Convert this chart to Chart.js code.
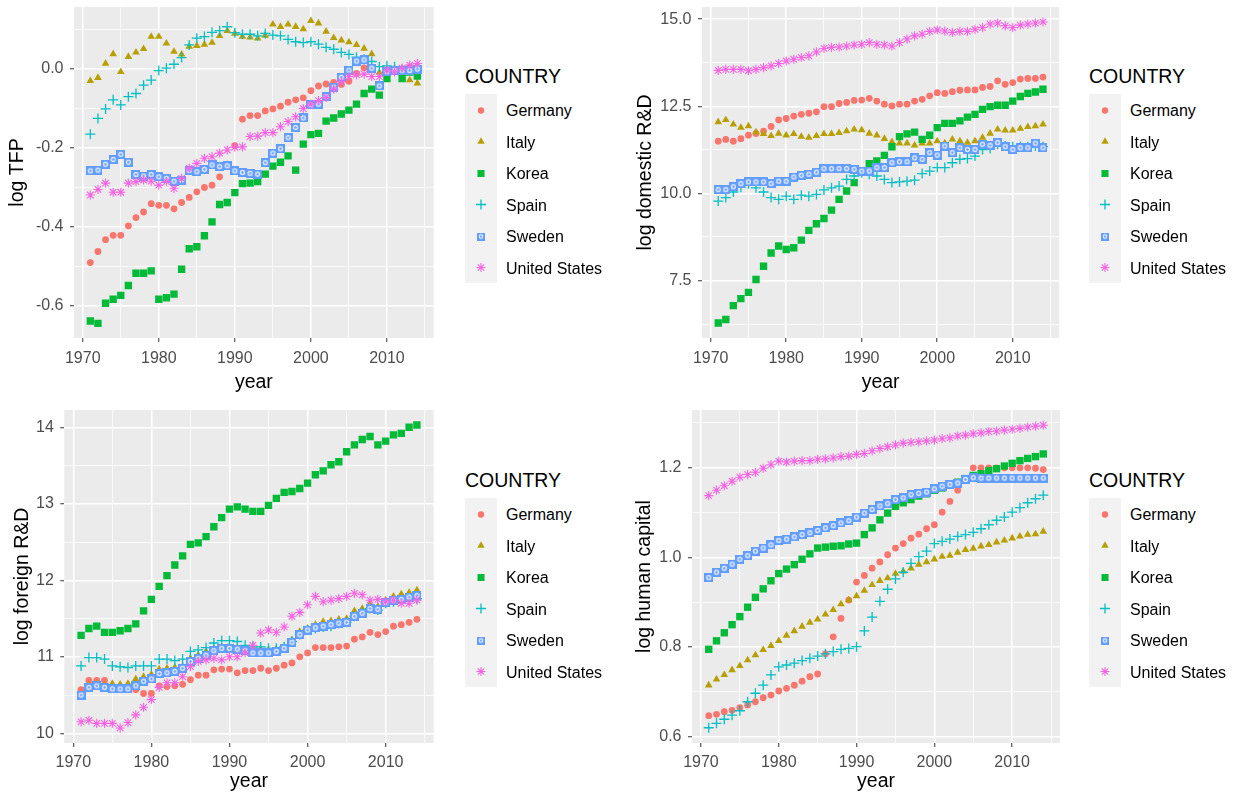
<!DOCTYPE html>
<html>
<head>
<meta charset="utf-8">
<script src="https://cdn.jsdelivr.net/npm/chart.js@4/dist/chart.umd.min.js"></script>
<style>
  body { margin: 0; background: #fff; font-family: "Liberation Sans", Arial, sans-serif; }
  #page { position: relative; width: 1242px; height: 799px; overflow: hidden; }
  .panel { position: absolute; }
  .legend-title { position: absolute; font-size: 19.5px; line-height: 22px; color: #000; white-space: nowrap; }
  .key { position: absolute; background: #F2F2F2; }
  .label { position: absolute; font-size: 16px; line-height: 20px; color: #000; white-space: nowrap; }
</style>
</head>
<body>
<div id="page"></div>
<script>
const PANEL_BG = '#EBEBEB';
const GRID_COLOR = '#FFFFFF';
const TICK_TEXT = '#4D4D4D';
const TICK_MARK = '#333333';
const FONT = '"Liberation Sans", Arial, sans-serif';

const years = [1971, 1972, 1973, 1974, 1975, 1976, 1977, 1978, 1979, 1980,
  1981, 1982, 1983, 1984, 1985, 1986, 1987, 1988, 1989, 1990,
  1991, 1992, 1993, 1994, 1995, 1996, 1997, 1998, 1999, 2000,
  2001, 2002, 2003, 2004, 2005, 2006, 2007, 2008, 2009, 2010,
  2011, 2012, 2013, 2014];
const countries = ['Germany', 'Italy', 'Korea', 'Spain', 'Sweden', 'United States'];
const colors = ['#F8766D', '#B79F00', '#00BA38', '#00BFC4', '#619CFF', '#F564E3'];

// log TFP
const tfpGermany = [-0.490, -0.462, -0.432, -0.421, -0.421, -0.397, -0.376, -0.362, -0.341, -0.345,
  -0.345, -0.354, -0.338, -0.325, -0.311, -0.300, -0.294, -0.273, -0.241, -0.194,
  -0.127, -0.118, -0.118, -0.106, -0.101, -0.094, -0.084, -0.078, -0.073, -0.055,
  -0.043, -0.038, -0.034, -0.039, -0.031, -0.011, 0.003, 0.003, -0.045, -0.005,
  0.000, 0.000, 0.005, 0.005];
const tfpItaly = [-0.030, -0.022, 0.014, 0.038, -0.007, 0.031, 0.042, 0.051, 0.082, 0.082,
  0.065, 0.044, 0.037, 0.057, 0.059, 0.062, 0.067, 0.084, 0.097, 0.090,
  0.082, 0.080, 0.078, 0.085, 0.113, 0.107, 0.113, 0.107, 0.101, 0.122,
  0.116, 0.095, 0.079, 0.073, 0.068, 0.061, 0.052, 0.038, -0.009, -0.003,
  -0.001, -0.007, -0.028, -0.036];
const tfpKorea = [-0.638, -0.644, -0.593, -0.583, -0.573, -0.548, -0.517, -0.517, -0.511, -0.583,
  -0.579, -0.570, -0.507, -0.455, -0.450, -0.422, -0.387, -0.343, -0.338, -0.313,
  -0.290, -0.289, -0.285, -0.266, -0.246, -0.236, -0.220, -0.256, -0.190, -0.166,
  -0.163, -0.132, -0.124, -0.114, -0.104, -0.089, -0.062, -0.051, -0.066, -0.024,
  -0.003, -0.024, -0.008, -0.018];
const tfpSpain = [-0.165, -0.125, -0.101, -0.078, -0.091, -0.070, -0.062, -0.041, -0.028, -0.004,
  0.002, 0.012, 0.029, 0.061, 0.078, 0.082, 0.093, 0.097, 0.107, 0.092,
  0.088, 0.088, 0.084, 0.090, 0.086, 0.084, 0.075, 0.069, 0.067, 0.069,
  0.063, 0.055, 0.050, 0.042, 0.037, 0.030, 0.025, 0.019, 0.006, 0.008,
  0.006, -0.001, -0.003, -0.001];
const tfpSweden = [-0.258, -0.256, -0.241, -0.229, -0.216, -0.236, -0.267, -0.271, -0.267, -0.273,
  -0.277, -0.284, -0.281, -0.257, -0.260, -0.254, -0.243, -0.247, -0.245, -0.258,
  -0.262, -0.264, -0.266, -0.237, -0.213, -0.202, -0.174, -0.148, -0.124, -0.091,
  -0.089, -0.070, -0.046, -0.021, -0.003, 0.020, 0.023, 0.002, -0.043, -0.007,
  -0.004, -0.004, -0.004, 0.000];
const tfpUS = [-0.319, -0.305, -0.289, -0.312, -0.312, -0.289, -0.285, -0.281, -0.284, -0.294,
  -0.285, -0.302, -0.277, -0.251, -0.239, -0.226, -0.222, -0.213, -0.205, -0.198,
  -0.197, -0.171, -0.170, -0.161, -0.161, -0.146, -0.133, -0.121, -0.100, -0.089,
  -0.080, -0.072, -0.051, -0.032, -0.019, -0.015, -0.013, -0.019, -0.019, -0.003,
  -0.007, 0.002, 0.010, 0.014];

// log domestic R&D
const domGermany = [11.50, 11.55, 11.50, 11.57, 11.67, 11.72, 11.79, 11.92, 12.11, 12.15,
  12.22, 12.27, 12.30, 12.34, 12.49, 12.49, 12.58, 12.61, 12.67, 12.68,
  12.73, 12.65, 12.56, 12.51, 12.56, 12.56, 12.65, 12.70, 12.80, 12.89,
  12.87, 12.92, 12.96, 12.97, 12.97, 13.04, 13.07, 13.23, 13.13, 13.18,
  13.28, 13.30, 13.30, 13.34];
const domItaly = [12.05, 12.11, 11.98, 11.89, 11.93, 11.76, 11.71, 11.65, 11.72, 11.67,
  11.71, 11.63, 11.60, 11.65, 11.71, 11.71, 11.74, 11.79, 11.84, 11.82,
  11.72, 11.67, 11.57, 11.48, 11.44, 11.44, 11.38, 11.44, 11.44, 11.50,
  11.44, 11.55, 11.50, 11.46, 11.50, 11.60, 11.72, 11.84, 11.81, 11.81,
  11.86, 11.91, 11.93, 11.98];
const domKorea = [6.28, 6.38, 6.78, 6.98, 7.16, 7.53, 7.91, 8.29, 8.49, 8.39,
  8.44, 8.66, 8.94, 9.13, 9.28, 9.52, 9.83, 10.07, 10.31, 10.62,
  10.85, 10.93, 11.09, 11.34, 11.63, 11.71, 11.76, 11.55, 11.67, 11.89,
  12.01, 12.01, 12.08, 12.19, 12.27, 12.41, 12.49, 12.53, 12.53, 12.65,
  12.78, 12.87, 12.91, 12.99];
const domSpain = [9.78, 9.88, 10.04, 10.18, 10.28, 10.16, 10.04, 9.88, 9.83, 9.92,
  9.83, 9.95, 9.92, 9.97, 10.10, 10.16, 10.21, 10.40, 10.50, 10.59,
  10.55, 10.50, 10.40, 10.31, 10.33, 10.35, 10.38, 10.57, 10.64, 10.74,
  10.74, 10.88, 10.98, 11.00, 11.07, 11.26, 11.29, 11.41, 11.36, 11.34,
  11.34, 11.34, 11.36, 11.34];
const domSweden = [10.11, 10.11, 10.19, 10.28, 10.33, 10.33, 10.33, 10.28, 10.35, 10.35,
  10.47, 10.52, 10.55, 10.61, 10.71, 10.71, 10.71, 10.71, 10.69, 10.64,
  10.64, 10.74, 10.74, 10.88, 10.91, 10.91, 11.02, 10.98, 11.17, 11.10,
  11.36, 11.17, 11.31, 11.26, 11.26, 11.41, 11.38, 11.46, 11.34, 11.26,
  11.31, 11.31, 11.44, 11.31];
const domUS = [13.53, 13.56, 13.56, 13.56, 13.52, 13.56, 13.61, 13.66, 13.73, 13.80,
  13.85, 13.90, 13.95, 14.06, 14.16, 14.19, 14.20, 14.23, 14.26, 14.28,
  14.33, 14.28, 14.26, 14.23, 14.33, 14.43, 14.52, 14.57, 14.65, 14.69,
  14.66, 14.62, 14.65, 14.65, 14.71, 14.76, 14.86, 14.89, 14.81, 14.76,
  14.83, 14.86, 14.89, 14.92];

// log foreign R&D
const forGermany = [10.57, 10.69, 10.69, 10.69, 10.58, 10.58, 10.57, 10.57, 10.52, 10.52,
  10.62, 10.61, 10.62, 10.64, 10.70, 10.76, 10.76, 10.83, 10.84, 10.84,
  10.79, 10.82, 10.82, 10.85, 10.82, 10.85, 10.89, 10.92, 11.00, 11.05,
  11.12, 11.12, 11.12, 11.13, 11.14, 11.23, 11.26, 11.32, 11.29, 11.33,
  11.40, 11.42, 11.45, 11.49];
const forItaly = [10.50, 10.63, 10.65, 10.63, 10.65, 10.64, 10.65, 10.71, 10.74, 10.77,
  10.84, 10.85, 10.86, 10.87, 10.98, 11.02, 11.07, 11.11, 11.13, 11.13,
  11.12, 11.10, 11.10, 11.10, 11.09, 11.10, 11.12, 11.22, 11.33, 11.37,
  11.42, 11.46, 11.47, 11.49, 11.50, 11.60, 11.63, 11.69, 11.66, 11.74,
  11.79, 11.82, 11.84, 11.87];
const forKorea = [11.28, 11.37, 11.40, 11.32, 11.32, 11.34, 11.37, 11.43, 11.60, 11.75,
  11.92, 12.06, 12.20, 12.32, 12.47, 12.49, 12.57, 12.70, 12.82, 12.93,
  12.96, 12.93, 12.90, 12.90, 12.98, 13.07, 13.15, 13.16, 13.20, 13.27,
  13.38, 13.43, 13.51, 13.55, 13.68, 13.77, 13.84, 13.88, 13.77, 13.82,
  13.90, 13.92, 14.00, 14.03];
const forSpain = [10.88, 10.99, 10.99, 10.97, 10.88, 10.87, 10.86, 10.88, 10.88, 10.88,
  10.97, 10.97, 10.95, 10.97, 11.07, 11.09, 11.12, 11.18, 11.21, 11.21,
  11.20, 11.15, 11.13, 11.13, 11.11, 11.11, 11.13, 11.20, 11.29, 11.35,
  11.37, 11.39, 11.40, 11.44, 11.45, 11.53, 11.58, 11.63, 11.61, 11.70,
  11.72, 11.74, 11.74, 11.76];
const forSweden = [10.50, 10.60, 10.62, 10.60, 10.58, 10.58, 10.58, 10.62, 10.68, 10.71,
  10.78, 10.79, 10.81, 10.85, 10.94, 10.98, 11.02, 11.08, 11.11, 11.11,
  11.10, 11.08, 11.05, 11.05, 11.05, 11.07, 11.11, 11.19, 11.29, 11.35,
  11.38, 11.40, 11.42, 11.44, 11.45, 11.53, 11.57, 11.63, 11.62, 11.71,
  11.74, 11.75, 11.78, 11.80];
const forUS = [10.15, 10.17, 10.13, 10.13, 10.13, 10.07, 10.14, 10.24, 10.34, 10.44,
  10.60, 10.66, 10.66, 10.74, 10.87, 10.94, 10.96, 10.98, 10.96, 11.00,
  11.00, 11.05, 11.15, 11.31, 11.35, 11.32, 11.39, 11.53, 11.58, 11.68,
  11.79, 11.72, 11.74, 11.76, 11.79, 11.83, 11.81, 11.74, 11.75, 11.72,
  11.74, 11.70, 11.70, 11.74];

// log human capital
const hcGermany = [0.647, 0.650, 0.656, 0.659, 0.665, 0.671, 0.678, 0.687, 0.693, 0.702,
  0.708, 0.715, 0.724, 0.734, 0.740, 0.785, 0.823, 0.864, 0.905, 0.945,
  0.960, 0.976, 0.990, 1.006, 1.021, 1.031, 1.043, 1.052, 1.064, 1.073,
  1.101, 1.125, 1.150, 1.175, 1.200, 1.200, 1.200, 1.200, 1.200, 1.200,
  1.200, 1.200, 1.199, 1.196];
const hcItaly = [0.715, 0.728, 0.738, 0.749, 0.758, 0.771, 0.782, 0.794, 0.803, 0.814,
  0.826, 0.836, 0.846, 0.855, 0.862, 0.873, 0.883, 0.896, 0.905, 0.914,
  0.926, 0.939, 0.948, 0.954, 0.964, 0.969, 0.976, 0.984, 0.990, 0.996,
  1.002, 1.004, 1.011, 1.017, 1.020, 1.025, 1.028, 1.034, 1.038, 1.043,
  1.047, 1.051, 1.052, 1.058];
const hcKorea = [0.795, 0.814, 0.832, 0.850, 0.868, 0.889, 0.911, 0.930, 0.948, 0.964,
  0.974, 0.984, 0.996, 1.008, 1.021, 1.023, 1.025, 1.026, 1.030, 1.032,
  1.051, 1.066, 1.084, 1.099, 1.114, 1.122, 1.129, 1.137, 1.142, 1.150,
  1.155, 1.163, 1.168, 1.176, 1.183, 1.187, 1.194, 1.198, 1.204, 1.210,
  1.216, 1.221, 1.225, 1.231];
const hcSpain = [0.620, 0.630, 0.639, 0.648, 0.658, 0.678, 0.697, 0.715, 0.738, 0.756,
  0.760, 0.764, 0.770, 0.775, 0.780, 0.785, 0.790, 0.795, 0.797, 0.801,
  0.836, 0.867, 0.902, 0.929, 0.952, 0.967, 0.987, 1.002, 1.014, 1.031,
  1.036, 1.041, 1.047, 1.051, 1.056, 1.064, 1.073, 1.083, 1.090, 1.101,
  1.111, 1.122, 1.131, 1.139];
const hcSweden = [0.955, 0.967, 0.976, 0.985, 0.996, 1.004, 1.014, 1.021, 1.028, 1.038,
  1.041, 1.046, 1.051, 1.055, 1.060, 1.066, 1.071, 1.077, 1.082, 1.090,
  1.099, 1.107, 1.115, 1.120, 1.129, 1.133, 1.140, 1.143, 1.146, 1.153,
  1.159, 1.163, 1.166, 1.174, 1.178, 1.177, 1.177, 1.177, 1.177, 1.177,
  1.177, 1.177, 1.177, 1.177];
const hcUS = [1.138, 1.150, 1.160, 1.170, 1.179, 1.185, 1.190, 1.199, 1.207, 1.215,
  1.213, 1.215, 1.216, 1.216, 1.219, 1.220, 1.222, 1.225, 1.226, 1.230,
  1.232, 1.238, 1.243, 1.247, 1.251, 1.255, 1.257, 1.258, 1.260, 1.262,
  1.265, 1.267, 1.271, 1.273, 1.276, 1.278, 1.281, 1.282, 1.284, 1.286,
  1.288, 1.291, 1.293, 1.295];

// tick labels
const xMajor = [1970, 1980, 1990, 2000, 2010];
const xMinor = [1975, 1985, 1995, 2005, 2015];
const tfpMajor = [-0.6, -0.4, -0.2, 0.0];
const tfpTickLabels = ['-0.6', '-0.4', '-0.2', '0.0'];
const tfpMinor = [-0.5, -0.3, -0.1, 0.1];
const domMajor = [7.5, 10, 12.5, 15];
const domTickLabels = ['7.5', '10.0', '12.5', '15.0'];
const domMinor = [6.25, 8.75, 11.25, 13.75];
const forMajor = [10, 11, 12, 13, 14];
const forTickLabels = ['10', '11', '12', '13', '14'];
const forMinor = [10.5, 11.5, 12.5, 13.5];
const hcMajor = [0.6, 0.8, 1.0, 1.2];
const hcTickLabels = ['0.6', '0.8', '1.0', '1.2'];
const hcMinor = [0.7, 0.9, 1.1, 1.3];

Chart.defaults.font.family = FONT;

// Sweden uses a square with a ring in it, ggplot style
function swedenIcon(size) {
  const c = document.createElement('canvas');
  c.width = size;
  c.height = size;
  const g = c.getContext('2d');
  g.fillStyle = colors[4];
  g.fillRect(0, 0, size, size);
  g.fillStyle = '#DCE7FF';
  g.beginPath();
  g.arc(size / 2, size / 2, size * 0.3, 0, Math.PI * 2);
  g.fill();
  g.fillStyle = colors[4];
  g.beginPath();
  g.arc(size / 2, size / 2, size * 0.13, 0, Math.PI * 2);
  g.fill();
  return c;
}

const markers = [
  {style: 'circle', radius: 3.4, border: 0},
  {style: 'triangle', radius: 4.4, border: 0},
  {style: 'rect', radius: 5.2, border: 0},
  {style: 'cross', radius: 5, border: 1.3},
  {style: swedenIcon(9), radius: 4.5, border: 0},
  {style: 'star', radius: 4.6, border: 1.1}
];

const panelBackground = {
  id: 'panelBackground',
  beforeDraw(chart) {
    const a = chart.chartArea;
    chart.ctx.save();
    chart.ctx.fillStyle = PANEL_BG;
    chart.ctx.fillRect(a.left, a.top, a.right - a.left, a.bottom - a.top);
    chart.ctx.restore();
  }
};

const page = document.getElementById('page');

function axisOptions(major, minor, labels, min, max, title, fit, titlePad, tickPad) {
  const all = major.concat(minor).filter(v => v >= min && v <= max).sort((a, b) => a - b);
  return {
    type: 'linear',
    min: min,
    max: max,
    afterBuildTicks: s => { s.ticks = all.map(v => ({value: v})); },
    afterFit: s => {
      fit(s);
      // no extra room for half labels, panel edges are fixed
      s.paddingTop = 0;
      s.paddingBottom = 0;
      s.paddingLeft = 0;
      s.paddingRight = 0;
    },
    ticks: {
      autoSkip: false,
      maxRotation: 0,
      padding: tickPad,
      color: TICK_TEXT,
      font: {size: 16},
      callback: v => major.includes(v) ? labels[major.indexOf(v)] : ''
    },
    grid: {
      color: GRID_COLOR,
      lineWidth: ctx => major.includes(ctx.tick.value) ? 1.5 : 0.75,
      tickLength: 4,
      tickWidth: 1,
      tickColor: ctx => major.includes(ctx.tick.value) ? TICK_MARK : 'rgba(0,0,0,0)'
    },
    border: {display: false},
    title: {display: true, text: title, color: '#000', font: {size: 19.5}, padding: titlePad}
  };
}

function makePanel(p) {
  const holder = document.createElement('div');
  holder.className = 'panel';
  holder.style.left = p.left + 'px';
  holder.style.top = p.top + 'px';
  const canvas = document.createElement('canvas');
  canvas.width = p.width;
  canvas.height = p.height;
  holder.appendChild(canvas);
  page.appendChild(holder);

  const datasets = countries.map((name, i) => ({
    label: name,
    data: years.map((yr, j) => ({x: yr, y: p.series[i][j]})),
    pointStyle: markers[i].style,
    pointRadius: markers[i].radius,
    pointBackgroundColor: colors[i],
    pointBorderColor: colors[i],
    pointBorderWidth: markers[i].border,
    showLine: false,
    order: countries.length - i // later countries on top
  }));

  new Chart(canvas, {
    type: 'scatter',
    data: {datasets: datasets},
    options: {
      responsive: false,
      animation: false,
      events: [],
      layout: {padding: {left: 0, top: p.padTop, right: p.padRight, bottom: 0}},
      plugins: {legend: {display: false}, tooltip: {enabled: false}},
      scales: {
        x: axisOptions(xMajor, xMinor, xMajor.map(String), 1968.85, 2016.15, 'year',
          s => { s.height = p.xHeight; }, {top: 0, bottom: 6}, p.xTickPad),
        y: axisOptions(p.yMajor, p.yMinor, p.yLabels, p.yMin, p.yMax, p.yTitle,
          s => { s.width = p.yWidth; }, {top: p.yTitlePad, bottom: 0}, 6.5)
      }
    },
    plugins: [panelBackground]
  });

  makeLegend(p.legendLeft, p.legendTop);
}

function drawKey(g, i, cx, cy) {
  const c = colors[i];
  g.fillStyle = c;
  g.strokeStyle = c;
  g.lineWidth = markers[i].border;
  g.beginPath();
  if (i === 0) {
    g.arc(cx, cy, 3.2, 0, Math.PI * 2);
    g.fill();
  } else if (i === 1) {
    g.moveTo(cx, cy - 4.2);
    g.lineTo(cx + 3.7, cy + 2.2);
    g.lineTo(cx - 3.7, cy + 2.2);
    g.closePath();
    g.fill();
  } else if (i === 2) {
    g.fillRect(cx - 3.5, cy - 3.5, 7, 7);
  } else if (i === 3) {
    g.moveTo(cx - 5, cy); g.lineTo(cx + 5, cy);
    g.moveTo(cx, cy - 5); g.lineTo(cx, cy + 5);
    g.stroke();
  } else if (i === 4) {
    g.drawImage(swedenIcon(8), cx - 4, cy - 4);
  } else {
    const r = 4.5, d = r * Math.SQRT1_2;
    g.moveTo(cx - r, cy); g.lineTo(cx + r, cy);
    g.moveTo(cx, cy - r); g.lineTo(cx, cy + r);
    g.moveTo(cx - d, cy - d); g.lineTo(cx + d, cy + d);
    g.moveTo(cx - d, cy + d); g.lineTo(cx + d, cy - d);
    g.stroke();
  }
}

function makeLegend(lx, ly) {
  const title = document.createElement('div');
  title.className = 'legend-title';
  title.textContent = 'COUNTRY';
  title.style.left = lx + 'px';
  title.style.top = ly + 'px';
  page.appendChild(title);

  const keyW = 32, keyH = 31.5;
  const boxTop = ly + 28.5;
  countries.forEach((name, i) => {
    const key = document.createElement('canvas');
    key.className = 'key';
    key.width = keyW;
    key.height = 32;
    key.style.left = lx + 'px';
    key.style.top = (boxTop + i * keyH) + 'px';
    page.appendChild(key);
    const g = key.getContext('2d');
    g.fillStyle = '#F2F2F2';
    g.fillRect(0, 0, keyW, 32);
    drawKey(g, i, keyW / 2, 16.5);

    const label = document.createElement('div');
    label.className = 'label';
    label.textContent = name;
    label.style.left = (lx + 41) + 'px';
    label.style.top = (boxTop + i * keyH + 7.5) + 'px';
    page.appendChild(label);
  });
}

const panels = [
  {series: [tfpGermany, tfpItaly, tfpKorea, tfpSpain, tfpSweden, tfpUS], yTitle: 'log TFP',
   yMajor: tfpMajor, yLabels: tfpTickLabels, yMinor: tfpMinor, yMin: -0.681, yMax: 0.157,
   left: 0, top: 0, width: 440, height: 400, yWidth: 74, xHeight: 62, padTop: 7, padRight: 3.6,
   yTitlePad: 6.3, xTickPad: 6.5, legendLeft: 465, legendTop: 65},
  {series: [domGermany, domItaly, domKorea, domSpain, domSweden, domUS], yTitle: 'log domestic R&D',
   yMajor: domMajor, yLabels: domTickLabels, yMinor: domMinor, yMin: 5.85, yMax: 15.35,
   left: 630, top: 0, width: 440, height: 400, yWidth: 72, xHeight: 62, padTop: 7, padRight: 10.8,
   yTitlePad: 3.8, xTickPad: 6.5, legendLeft: 1089, legendTop: 65},
  {series: [forGermany, forItaly, forKorea, forSpain, forSweden, forUS], yTitle: 'log foreign R&D',
   yMajor: forMajor, yLabels: forTickLabels, yMinor: forMinor, yMin: 9.873, yMax: 14.226,
   left: 0, top: 400, width: 440, height: 399, yWidth: 64.3, xHeight: 56, padTop: 10, padRight: 4,
   yTitlePad: 10.8, xTickPad: 5.5, legendLeft: 465, legendTop: 469},
  {series: [hcGermany, hcItaly, hcKorea, hcSpain, hcSweden, hcUS], yTitle: 'log human capital',
   yMajor: hcMajor, yLabels: hcTickLabels, yMinor: hcMinor, yMin: 0.586, yMax: 1.329,
   left: 630, top: 400, width: 440, height: 399, yWidth: 62, xHeight: 56, padTop: 10, padRight: 10,
   yTitlePad: 3.3, xTickPad: 5.5, legendLeft: 1089, legendTop: 469}
];

panels.forEach(makePanel);
</script>
</body>
</html>
